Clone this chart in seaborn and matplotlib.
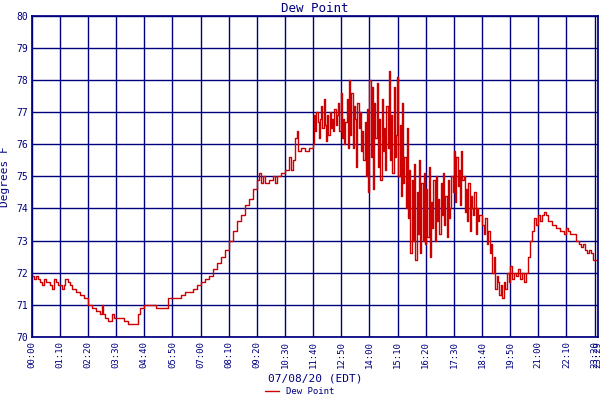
import numpy as np
import pandas as pd
import matplotlib
matplotlib.use("Agg")
import matplotlib.pyplot as plt
import seaborn as sns

# minutes after midnight and dew point (F)
early_min = [0, 5, 10, 15, 20, 25, 30, 35, 40, 45, 50, 55, 60, 65, 70, 75, 80, 83, 90, 95,
             100, 110, 120, 130, 140, 150, 160, 170, 175, 178, 182, 190, 195, 200, 205, 220,
             230, 240, 260, 265, 270, 280, 300, 310, 330, 340, 360, 370, 380, 400, 410, 420,
             430, 440, 450, 460, 470, 480, 490, 500, 510, 520, 530, 540, 550, 560, 565, 570,
             575, 580, 590, 600, 605, 610, 620, 630, 640, 645, 650, 655, 660, 663, 670, 680,
             690, 700]
early_val = [71.9, 71.8, 71.9, 71.8, 71.7, 71.6, 71.8, 71.7, 71.7, 71.6, 71.5, 71.8, 71.7, 71.6,
             71.6, 71.5, 71.6, 71.8, 71.7, 71.6, 71.5, 71.4, 71.3, 71.2, 71.0, 70.9, 70.8, 70.7,
             71.0, 70.7, 70.6, 70.5, 70.5, 70.7, 70.6, 70.6, 70.5, 70.4, 70.4, 70.7, 70.9, 71.0,
             71.0, 70.9, 70.9, 71.2, 71.2, 71.3, 71.4, 71.5, 71.6, 71.7, 71.8, 71.9, 72.1, 72.3,
             72.5, 72.7, 73.0, 73.3, 73.6, 73.8, 74.1, 74.3, 74.6, 74.9, 75.1, 74.8, 75.0, 74.8,
             74.9, 75.0, 74.8, 75.0, 75.1, 75.2, 75.6, 75.2, 75.5, 76.2, 76.4, 75.8, 75.9, 75.8,
             75.9, 76.0]

# noisy afternoon, one reading every 3 minutes from 702
noisy_start, noisy_step = 702, 3
noisy_val = [76.9, 76.4, 77.0, 76.7, 76.2, 76.8, 77.2, 76.5, 77.4, 76.6, 76.1, 76.9, 76.3, 77.0,
             76.5, 76.8, 76.4, 77.1, 76.6, 76.9, 77.3, 76.4, 77.6,
             76.2, 76.8, 76.0, 76.7, 77.4, 75.9, 78.0, 76.3, 77.6, 75.9, 77.2, 76.8, 75.3, 77.3,
             76.5, 77.0, 75.8, 76.4, 75.5, 76.7, 75.0, 77.1, 74.5,
             78.0, 75.6, 77.8, 74.6, 77.3, 76.2, 77.9, 75.3, 76.8, 74.9, 77.4, 75.8, 76.5, 75.2,
             77.2, 75.9, 78.3, 75.5, 76.9, 75.1, 77.8, 75.6, 76.3,
             78.1, 75.0, 76.6, 74.4, 77.3, 74.8, 75.6, 74.0, 76.5, 73.7, 75.2, 72.6, 74.9, 73.0,
             75.4, 72.4, 74.5, 73.2, 75.5, 72.6, 74.8, 73.0, 75.1,
             72.9, 74.6, 73.1, 75.3, 72.5, 74.2, 73.4, 74.9, 73.0, 75.0, 73.6, 74.3, 73.2, 74.8,
             73.8, 75.1, 73.5, 74.4, 73.1, 74.9, 73.7, 74.0, 75.0,
             74.5, 75.8, 74.2, 75.6, 74.7, 75.2, 74.1, 75.8, 74.9, 75.0, 73.9, 74.6, 73.6, 74.8,
             73.3, 74.4, 74.0, 73.8, 74.5, 73.2, 74.0, 73.6, 73.8]

late_min = [1120, 1125, 1128, 1132, 1136, 1140, 1143, 1146, 1150, 1153, 1157, 1160, 1163, 1166,
            1170, 1174, 1178, 1182, 1186, 1190, 1195, 1200, 1205, 1210, 1215, 1220, 1225, 1230,
            1235, 1240, 1245, 1250, 1255, 1260, 1265, 1270, 1275, 1280, 1285, 1290, 1295, 1300,
            1305, 1310, 1315, 1320, 1325, 1330, 1335, 1340, 1345, 1350, 1355, 1360, 1365, 1370,
            1375, 1380, 1385, 1390, 1395, 1400, 1409]
late_val = [73.5, 73.2, 73.7, 72.9, 73.3, 72.6, 72.9, 72.0, 72.5, 71.5, 71.9, 71.7, 71.3, 71.6,
            71.2, 71.7, 71.5, 72.0, 71.7, 72.2, 71.8, 72.0, 71.9, 72.1, 71.8, 72.0, 71.7, 72.0,
            72.5, 73.0, 73.3, 73.7, 73.5, 73.8, 73.6, 73.8, 73.9, 73.8, 73.6, 73.6, 73.5, 73.5,
            73.4, 73.4, 73.3, 73.3, 73.2, 73.4, 73.3, 73.2, 73.2, 73.2, 73.0, 72.9, 72.8, 72.9,
            72.7, 72.6, 72.7, 72.6, 72.4, 72.4, 72.3]

tick_min = list(range(0, 1401, 70)) + [1409]
tick_lab = [f"{m // 60:02d}:{m % 60:02d}" for m in tick_min]

noisy_min = [noisy_start + noisy_step * i for i in range(len(noisy_val))]
df = pd.DataFrame({
    "min": early_min + noisy_min + late_min,
    "dew": early_val + noisy_val + late_val,
})

sns.set_theme(style="white")
plt.rcParams['font.family'] = ['DejaVu Sans Mono']
navy = "#00007f"

fig = plt.figure(figsize=(6, 4), dpi=100)
ax = fig.add_axes([0.053, 0.158, 0.944, 0.802])
sns.lineplot(data=df, x="min", y="dew", ax=ax, color="#cc0000", lw=1,
             drawstyle="steps-post", label="Dew Point", legend=False)

ax.set_xlim(0, 1409)
ax.set_ylim(70, 80)
ax.set_xticks(tick_min)
ax.set_xticklabels(tick_lab, rotation=90, fontsize=6.5, color=navy)
ax.set_yticks(range(70, 81))
ax.tick_params(axis="y", labelsize=7, colors=navy, length=0, pad=3)
ax.tick_params(axis="x", length=0, pad=3)
ax.grid(True, color=navy, lw=1)
for s in ax.spines.values():
    s.set_color(navy)
ax.set_title("Dew Point", color=navy, fontsize=9, pad=3)
ax.set_xlabel("07/08/20 (EDT)", color=navy, fontsize=8, labelpad=4)
ax.set_ylabel("Degrees F", color=navy, fontsize=8, labelpad=4)

leg = fig.legend(loc="lower center", bbox_to_anchor=(0.5, -0.01), frameon=False,
                 fontsize=6.5, handlelength=1.5)
for t in leg.get_texts():
    t.set_color(navy)

fig.savefig("out.png", dpi=100)
